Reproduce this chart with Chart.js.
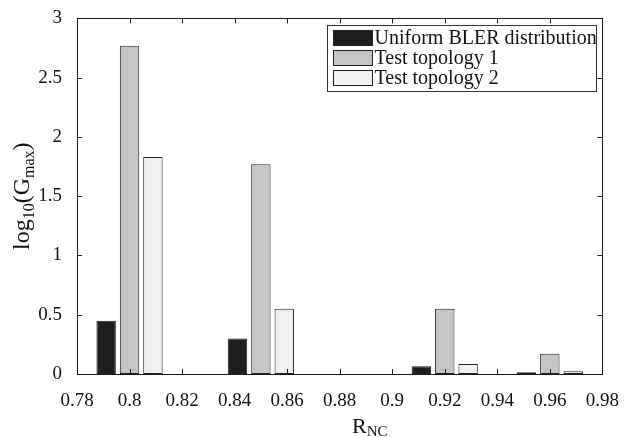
<!DOCTYPE html>
<html>
<head>
<meta charset="utf-8">
<script src="https://cdn.jsdelivr.net/npm/chart.js@4.4.1/dist/chart.umd.min.js"></script>
<style>
  html, body { margin: 0; padding: 0; background: #fff; }
</style>
</head>
<body>
<canvas id="chart" width="627" height="437"></canvas>
<script>
// R_NC positions of each bar group
const rncValues = [0.80, 0.85, 0.92, 0.96];
const seriesNames = ['Uniform BLER distribution', 'Test topology 1', 'Test topology 2'];
// log10(Gmax) per series
const uniformBler = [0.45, 0.30, 0.065, 0.015];
const topology1 = [2.77, 1.77, 0.55, 0.17];
const topology2 = [1.83, 0.55, 0.085, 0.023];
const xTicks = [0.78, 0.80, 0.82, 0.84, 0.86, 0.88, 0.90, 0.92, 0.94, 0.96, 0.98];
const yTicks = [0, 0.5, 1, 1.5, 2, 2.5, 3];

const FONT = '"Liberation Serif", "DejaVu Serif", serif';

function toPoints(values) {
    return rncValues.map((x, i) => ({ x: x, y: values[i] }));
}

// inward ticks on all four sides + box, legend and axis titles with subscripts
const matlabLook = {
    id: 'matlabLook',
    afterDraw(chart) {
        const ctx = chart.ctx;
        const area = chart.chartArea;
        const xs = chart.scales.x;
        const ys = chart.scales.y;
        ctx.save();
        ctx.strokeStyle = '#1a1a1a';
        ctx.lineWidth = 1;
        ctx.beginPath();
        ctx.moveTo(Math.round(area.left) + 0.5, Math.round(area.top) + 0.5);
        ctx.lineTo(Math.round(area.right) + 0.5, Math.round(area.top) + 0.5);
        ctx.lineTo(Math.round(area.right) + 0.5, Math.round(area.bottom) + 0.5);
        ctx.stroke();

        const tl = 5;
        ctx.beginPath();
        xTicks.forEach((v) => {
            const px = Math.round(xs.getPixelForValue(v)) + 0.5;
            ctx.moveTo(px, area.bottom);
            ctx.lineTo(px, area.bottom - tl);
            ctx.moveTo(px, area.top);
            ctx.lineTo(px, area.top + tl);
        });
        yTicks.forEach((v) => {
            const py = Math.round(ys.getPixelForValue(v)) + 0.5;
            ctx.moveTo(area.left, py);
            ctx.lineTo(area.left + tl, py);
            ctx.moveTo(area.right, py);
            ctx.lineTo(area.right - tl, py);
        });
        ctx.stroke();

        // legend
        const lw = 269, lh = 66;
        const lx = Math.round(area.right) - 6 - lw + 0.5;
        const ly = Math.round(area.top) + 7 + 0.5;
        ctx.fillStyle = '#fff';
        ctx.fillRect(lx, ly, lw, lh);
        ctx.strokeStyle = '#333';
        ctx.strokeRect(lx, ly, lw, lh);
        ctx.font = '20px ' + FONT;
        ctx.textBaseline = 'middle';
        ctx.textAlign = 'left';
        chart.data.datasets.forEach((ds, i) => {
            const by = ly + 5 + i * 20;
            ctx.fillStyle = ds.backgroundColor;
            ctx.fillRect(lx + 6, by, 39, 15);
            ctx.strokeStyle = '#222';
            ctx.strokeRect(lx + 6, by, 39, 15);
            ctx.fillStyle = '#111';
            ctx.fillText(ds.label, lx + 47, by + 8);
        });

        // x title: R_NC
        ctx.fillStyle = '#111';
        ctx.textBaseline = 'alphabetic';
        ctx.font = '22px ' + FONT;
        const rx = 352;
        ctx.fillText('R', rx, 433);
        const rw = ctx.measureText('R').width;
        ctx.font = '15px ' + FONT;
        ctx.fillText('NC', rx + rw, 436);

        // y title: log10(Gmax)
        const parts = [
            ['log', 24, 0], ['10', 16, 5], ['(G', 24, 0], ['max', 16, 5], [')', 24, 0]
        ];
        let total = 0;
        parts.forEach((p) => { ctx.font = p[1] + 'px ' + FONT; total += ctx.measureText(p[0]).width; });
        ctx.translate(29, (area.top + area.bottom) / 2);
        ctx.rotate(-Math.PI / 2);
        let cx = -total / 2;
        parts.forEach((p) => {
            ctx.font = p[1] + 'px ' + FONT;
            ctx.fillText(p[0], cx, p[2]);
            cx += ctx.measureText(p[0]).width;
        });
        ctx.restore();
    }
};

new Chart(document.getElementById('chart'), {
    type: 'bar',
    data: {
        datasets: [
            { label: seriesNames[0], data: toPoints(uniformBler), backgroundColor: '#1e1e1e' },
            { label: seriesNames[1], data: toPoints(topology1), backgroundColor: '#c5c5c5' },
            { label: seriesNames[2], data: toPoints(topology2), backgroundColor: '#f0f0f0' }
        ]
    },
    options: {
        responsive: false,
        animation: false,
        layout: { padding: { top: 16, right: 22, left: 0, bottom: 0 } },
        datasets: {
            bar: {
                categoryPercentage: 1.335,
                barPercentage: 0.83,
                borderColor: '#222',
                borderWidth: 1,
                borderSkipped: false
            }
        },
        plugins: {
            legend: { display: false },
            tooltip: { enabled: false }
        },
        scales: {
            x: {
                type: 'linear',
                offset: false,
                min: 0.78,
                max: 0.98,
                afterBuildTicks: (scale) => { scale.ticks = xTicks.map(v => ({ value: v })); },
                afterFit: (scale) => { scale.height = 63; },
                grid: { display: false, offset: false },
                border: { display: true, color: '#1a1a1a', width: 1 },
                ticks: {
                    autoSkip: false,
                    maxRotation: 0,
                    padding: 8,
                    color: '#111',
                    font: { family: FONT, size: 19 },
                    callback: (v) => String(Math.round(v * 100) / 100)
                }
            },
            y: {
                min: 0,
                max: 3,
                afterBuildTicks: (scale) => { scale.ticks = yTicks.map(v => ({ value: v })); },
                afterFit: (scale) => { scale.width = 77; },
                grid: { display: false },
                border: { display: true, color: '#1a1a1a', width: 1 },
                ticks: {
                    padding: 7,
                    color: '#111',
                    font: { family: FONT, size: 19 },
                    callback: (v) => String(v)
                }
            }
        }
    },
    plugins: [matlabLook]
});
</script>
</body>
</html>
